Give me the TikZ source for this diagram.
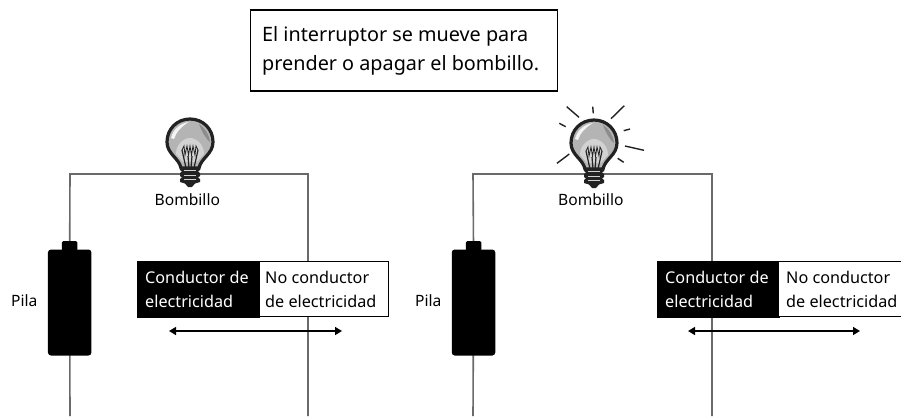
\documentclass[tikz,border=0pt]{standalone}
\usepackage{fontspec}
\setmainfont{Noto Sans}
\usetikzlibrary{arrows.meta,backgrounds}
\definecolor{wiregray}{HTML}{6A6A6A}
\definecolor{bulbgray}{HTML}{B4B4B4}
\definecolor{bulblight}{HTML}{D2D2D2}
\definecolor{bulbdark}{HTML}{8C8C8C}
\definecolor{bulbink}{HTML}{222222}
\tikzset{
  x=1pt,y=-1pt,
  wire/.style={draw=wiregray,line width=1.6pt},
  label/.style={font=\fontsize{16.2}{19}\selectfont,inner sep=0pt,anchor=base west},
  smalllabel/.style={font=\fontsize{15.6}{19}\selectfont,inner sep=0pt,anchor=base west},
  captext/.style={font=\fontsize{19.8}{24}\selectfont,inner sep=0pt,anchor=base west},
  cellblack/.style={fill=black,draw=black,line width=1pt,minimum height=56pt,inner sep=0pt},
  cellwhite/.style={fill=white,draw=black,line width=1.8pt,minimum height=55pt,inner sep=0pt},
  battbody/.style={fill=black,rounded corners=3pt,minimum width=43.5pt,minimum height=106pt,inner sep=0pt,outer sep=0pt},
  battnub/.style={fill=black,rounded corners=1.5pt,minimum width=15.5pt,minimum height=10pt,inner sep=0pt,outer sep=0pt},
  ray/.style={draw=bulbink,line width=1.4pt},
  slide/.style={draw=black,line width=1.5pt,{Triangle[length=7pt,width=8pt]}-{Triangle[length=7pt,width=8pt]}},
  bulb/.pic={
    \path[fill=bulbgray,draw=bulbink,line width=3.2pt]
      (-9,26) .. controls (-11,16) and (-23,12) .. (-23,0)
      .. controls (-23,-13) and (-13,-23) .. (0,-23)
      .. controls (13,-23) and (23,-13) .. (23,0)
      .. controls (23,12) and (11,16) .. (9,26) -- cycle;
    \fill[white!85!bulbgray] (-19,-4) .. controls (-17,-13) and (-9,-19) .. (-1,-20)
      .. controls (-8,-16) and (-14,-10) .. (-16,-3) -- cycle;
    \fill[bulbdark] (9,-18) .. controls (15,-14) and (19,-8) .. (20,0)
      .. controls (16,-3) and (12,-10) .. (9,-18) -- cycle;
    \fill[bulblight] (-14,12) .. controls (-14,2) and (-6,-4) .. (0,-4)
      .. controls (6,-4) and (14,2) .. (14,12) -- (7,20) -- (-7,20) -- cycle;
    \draw[bulbink,line width=1.2pt] (-4,26) -- (-8,8) (4,26) -- (8,8) (-1,26) -- (-2,14) (1,26) -- (2,14);
    \draw[bulbink,line width=.8pt] (-8,8) -- (-6,4) -- (-5,13) -- (-3,4) -- (-1.5,13) -- (0,4) -- (1.5,13) -- (3,4) -- (5,13) -- (6,4) -- (8,8);
    \fill[bulbink] (-10,25) -- (10,25) -- (10,28) -- (8,29.5) -- (10,31) -- (10,34) -- (8,35.5) -- (10,37) -- (10,40) -- (5,41.5) -- (2,45) -- (-2,45) -- (-5,41.5) -- (-10,40) -- (-10,37) -- (-8,35.5) -- (-10,34) -- (-10,31) -- (-8,29.5) -- (-10,28) -- cycle;
    \draw[bulblight,line width=.9pt] (-6,28.5) -- (6,28.5) (-6,33) -- (6,33) (-6,37.5) -- (6,37.5);
  }
}
\begin{document}
\begin{tikzpicture}
\useasboundingbox (0,0) rectangle (901,416);

% --- caption
\node[draw=black,line width=1.5pt,minimum width=307pt,minimum height=81pt,inner sep=0pt] (caption) at (404,50.5) {};
\node[captext] (cap1) at (262,41) {El interruptor se mueve para};
\node[captext] (cap2) at (262,70) {prender o apagar el bombillo.};

% --- left circuit
\coordinate (ltl) at (70,174);
\coordinate (ltr) at (308,174);
\coordinate (lbl) at (70,416);
\coordinate (lbr) at (308,416);
\node[battbody] (lbatt) at (69.7,302.5) {};
\node[battnub] (lnub) at (69.7,246) {};
\pic at (190,142) {bulb};
\node[smalllabel] (lbulb) at (154.5,205) {Bombillo};
\node[smalllabel] (lpila) at (11,306) {Pila};
\node[cellblack,minimum width=122pt] (lcond) at (198,289) {};
\node[cellwhite,minimum width=129pt] (lnon) at (324,289) {};
\node[label,white] (lc1) at (145,283) {Conductor de};
\node[label,white] (lc2) at (145,307) {electricidad};
\node[label] (ln1) at (265,283) {No conductor};
\node[label] (ln2) at (265,307) {de electricidad};
\coordinate (lal) at (169,331);
\coordinate (lar) at (342,331);
\draw[slide] (lal) -- (lar);
\begin{scope}[on background layer]
\draw[wire] (lnub.center) -- (ltl) -- (ltr) -- (lbr);
\draw[wire] (lbatt.center) -- (lbl);
\end{scope}

% --- right circuit
\coordinate (rtl) at (473,174);
\coordinate (rtr) at (712,174);
\coordinate (rbl) at (473,416);
\coordinate (rbr) at (712,416);
\node[battbody] (rbatt) at (473.5,302.5) {};
\node[battnub] (rnub) at (473.5,246) {};
\pic at (594,143) {bulb};
\draw[ray] (566.7,106.7) -- (579,117.3);
\draw[ray] (592.7,106.7) -- (593.3,113.3);
\draw[ray] (624.3,105.7) -- (611,118.7);
\draw[ray] (559.3,123.3) -- (565.7,126.7);
\draw[ray] (630,129) -- (623.7,130.7);
\draw[ray] (625,146) -- (644,150.3);
\draw[ray] (617.7,158.3) -- (623.7,162.3);
\draw[ray] (569.3,154) -- (557,163.3);
\node[smalllabel] (rbulb) at (558,205) {Bombillo};
\node[smalllabel] (rpila) at (415,306) {Pila};
\node[cellblack,minimum width=122pt] (rcond) at (718,289) {};
\node[cellwhite,minimum width=124pt] (rnon) at (840.5,289) {};
\node[label,white] (rc1) at (665,283) {Conductor de};
\node[label,white] (rc2) at (665,307) {electricidad};
\node[label] (rn1) at (786,283) {No conductor};
\node[label] (rn2) at (786,307) {de electricidad};
\coordinate (ral) at (688,331);
\coordinate (rar) at (860,331);
\draw[slide] (ral) -- (rar);
\begin{scope}[on background layer]
\draw[wire] (rnub.center) -- (rtl) -- (rtr) -- (rbr);
\draw[wire] (rbatt.center) -- (rbl);
\end{scope}
\end{tikzpicture}
\end{document}
